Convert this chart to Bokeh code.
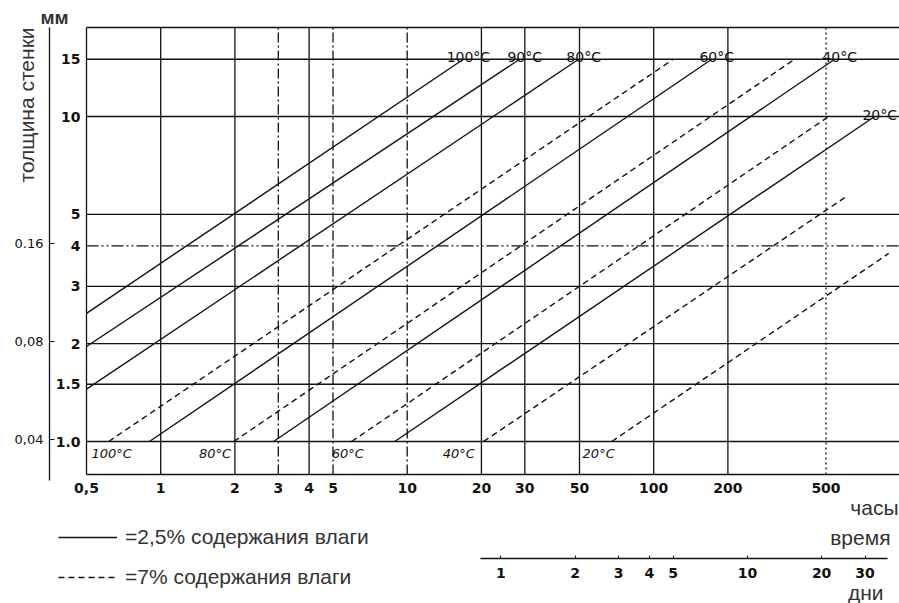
import math
from bokeh.plotting import figure
from bokeh.models import (Range1d, LogScale, LogAxis, FixedTicker, Label,
                          Legend, LegendItem, ColumnDataSource)
from bokeh.core.properties import value
from bokeh.embed import file_html
from bokeh.resources import INLINE

# ---------------- data ----------------
hours_ticks = [0.5, 1, 2, 3, 4, 5, 10, 20, 30, 50, 100, 200, 500]
hours_tick_labels = ["0,5", "1", "2", "3", "4", "5", "10", "20", "30", "50", "100", "200", "500"]
days_ticks = [1, 2, 3, 4, 5, 10, 20, 30]
days_tick_labels = ["1", "2", "3", "4", "5", "10", "20", "30"]
mm_ticks = [1.0, 1.5, 2, 3, 4, 5, 10, 15]
mm_tick_labels = ["1.0", "1.5", "2", "3", "4", "5", "10", "15"]
inch_ticks = [0.04, 0.08, 0.16]
inch_tick_labels = ["0,04", "0,08", "0.16"]

# 2.5 % moisture (solid lines): start / end points (hours, mm)
solid_temps = ["100°C", "90°C", "80°C", "60°C", "40°C", "20°C"]
solid_t_start = [0.5, 0.5, 0.5, 0.90, 2.87, 8.9]
solid_d_start = [2.48, 1.96, 1.45, 1.0, 1.0, 1.0]
solid_t_end = [16.9, 28.6, 49.6, 172, 542, 788]
solid_d_end = [15, 15, 15, 15, 15, 10]

# 7 % moisture (dashed lines)
dashed_temps = ["100°C", "80°C", "60°C", "40°C", "20°C"]
dashed_t_start = [0.615, 1.98, 5.95, 20.4, 67.6]
dashed_d_start = [1.0, 1.0, 1.0, 1.0, 1.0]
dashed_t_end = [120, 373, 513, 596, 898]
dashed_d_end = [15, 15, 10, 5.63, 3.79]
dashed_label_hours = [0.633, 1.66, 5.74, 16.2, 59.8]

# grid line groups (style groups)
xgrid_solid = [1, 2, 4, 20, 30, 50, 100, 200]
xgrid_dashdot = [3, 5, 10]
xgrid_dotted = [500]
ygrid_solid = [1.0, 1.5, 2, 3, 5, 10, 15]
ygrid_dashdot = [4]

# ---------------- layout constants ----------------
W, H = 899, 603
PX_PER_DEC_X = 246.5
PX_PER_DEC_Y = 325.0
BOX_LEFT_PX, BOX_TOP_PX, BOX_BOTTOM_PX = 86, 27, 474
X0 = 0.5                                  # hours at plot-box left edge
Y_ONE_PX = 441                            # pixel row of 1 mm

def hx(px):   # hours at a pixel column
    return X0 * 10 ** ((px - BOX_LEFT_PX) / PX_PER_DEC_X)

def my(py):   # mm at a pixel row
    return 10 ** ((Y_ONE_PX - py) / PX_PER_DEC_Y)

XR = (hx(0), hx(W))
YR = (my(H), my(0))
X1 = XR[1]
Y0, Y1 = my(BOX_BOTTOM_PX), my(BOX_TOP_PX)
MM_PER_INCH = 25.4
HOURS_PER_DAY = 24

p = figure(width=W, height=H, x_axis_type="log", y_axis_type="log",
           x_range=Range1d(*XR), y_range=Range1d(*YR),
           output_backend="svg", toolbar_location=None,
           min_border_left=0, min_border_right=0, min_border_top=0, min_border_bottom=0)
p.outline_line_color = None
p.background_fill_color = "white"
p.border_fill_color = "white"
p.grid.visible = False

INK = "#111111"
TXT = "#333333"
TICK_FONT = "DejaVu Sans"
TEXT_FONT = "Liberation Sans"
LW = 1.3

def style_axis(ax, size="14px", bold=True):
    ax.major_tick_out = 0
    ax.major_tick_in = 0
    ax.minor_tick_out = 0
    ax.minor_tick_in = 0
    ax.axis_line_color = INK
    ax.axis_line_width = LW
    ax.major_tick_line_color = INK
    ax.major_label_text_font = TICK_FONT
    ax.major_label_text_font_style = "bold" if bold else "normal"
    ax.major_label_text_font_size = size
    ax.major_label_text_color = INK

# hours axis (bottom of plot box)
xa = p.xaxis[0]
style_axis(xa)
xa.ticker = FixedTicker(ticks=hours_ticks)
xa.major_label_overrides = dict(zip(hours_ticks, hours_tick_labels))
xa.major_label_standoff = 8
xa.fixed_location = Y0
xa.bounds = (X0, X1)

# mm axis (left of plot box)
ya = p.yaxis[0]
style_axis(ya)
ya.ticker = FixedTicker(ticks=mm_ticks)
ya.major_label_overrides = dict(zip(mm_ticks, mm_tick_labels))
ya.major_label_standoff = 6
ya.fixed_location = X0
ya.bounds = (Y0, Y1)

# top border
ta = LogAxis(ticker=FixedTicker(ticks=[]), fixed_location=Y1, bounds=(X0, X1))
style_axis(ta)
p.add_layout(ta, "above")

# days axis
p.extra_x_ranges = {"days": Range1d(XR[0] / HOURS_PER_DAY, XR[1] / HOURS_PER_DAY)}
p.extra_x_scales = {"days": LogScale()}
da = LogAxis(x_range_name="days", ticker=FixedTicker(ticks=days_ticks),
             major_label_overrides=dict(zip(days_ticks, days_tick_labels)),
             fixed_location=my(558), bounds=(0.83, 37))
style_axis(da)
da.major_tick_in = 3
da.major_label_standoff = 9
p.add_layout(da, "below")

# inch axis
p.extra_y_ranges = {"inch": Range1d(YR[0] / MM_PER_INCH, YR[1] / MM_PER_INCH)}
p.extra_y_scales = {"inch": LogScale()}
ia = LogAxis(y_range_name="inch", ticker=FixedTicker(ticks=inch_ticks),
             major_label_overrides=dict(zip(inch_ticks, inch_tick_labels)),
             fixed_location=hx(49), bounds=(my(480) / MM_PER_INCH, Y1 / MM_PER_INCH))
style_axis(ia, size="13px", bold=False)
ia.major_tick_in = 5
ia.major_label_standoff = 6
p.add_layout(ia, "left")

# ---------------- grid lines ----------------
def vgrid(ticks, dash):
    p.segment(x0=ticks, y0=Y0, x1=ticks, y1=Y1, line_color=INK, line_width=LW, line_dash=dash)

def hgrid(ticks, dash):
    p.segment(x0=X0, y0=ticks, x1=X1, y1=ticks, line_color=INK, line_width=LW, line_dash=dash)

vgrid(xgrid_solid, "solid")
vgrid(xgrid_dashdot, "10 3 2 3")
vgrid(xgrid_dotted, "2 3")
hgrid(ygrid_solid, "solid")
hgrid(ygrid_dashdot, "12 3 2 3 2 3")

# ---------------- curves ----------------
solid_src = ColumnDataSource(dict(
    xs=[[a, b] for a, b in zip(solid_t_start, solid_t_end)],
    ys=[[a, b] for a, b in zip(solid_d_start, solid_d_end)],
    t_end=solid_t_end, d_end=solid_d_end, temp=solid_temps))
dashed_src = ColumnDataSource(dict(
    xs=[[a, b] for a, b in zip(dashed_t_start, dashed_t_end)],
    ys=[[a, b] for a, b in zip(dashed_d_start, dashed_d_end)],
    t_label=dashed_label_hours, d_start=dashed_d_start, temp=dashed_temps))

r_solid = p.multi_line(xs="xs", ys="ys", source=solid_src, line_color=INK, line_width=1.4)
r_dash = p.multi_line(xs="xs", ys="ys", source=dashed_src, line_color=INK,
                      line_width=1.4, line_dash="6 4")

p.text(x="t_end", y="d_end", text="temp", source=solid_src, text_align="center",
       text_baseline="alphabetic", x_offset=5, y_offset=-2, text_font=value(TICK_FONT),
       text_font_size="14px", text_color=INK)
p.text(x="t_label", y="d_start", text="temp", source=dashed_src, text_align="center",
       text_baseline="middle", y_offset=12, text_font=value(TICK_FONT),
       text_font_style="italic", text_font_size="13px", text_color=INK)

# ---------------- legend ----------------
legend = Legend(items=[LegendItem(label="=2,5% содержания влаги", renderers=[r_solid]),
                       LegendItem(label="=7% содержания влаги", renderers=[r_dash])],
                location=(58, 14), orientation="vertical",
                glyph_width=59, glyph_height=24, label_standoff=8, spacing=16,
                padding=0, margin=0, border_line_color=None, background_fill_alpha=0,
                label_text_font=TEXT_FONT, label_text_font_size="21px",
                label_text_color=TXT)
p.add_layout(legend)

# ---------------- free texts ----------------
def txt(s, x, y, align="left", size="21px", style="normal", angle=0.0):
    p.add_layout(Label(x=x, y=y, x_units="canvas", y_units="canvas", text=s,
                       text_align=align, text_baseline="alphabetic", angle=angle,
                       text_font=TEXT_FONT, text_font_size=size, text_font_style=style,
                       text_color=TXT))

txt("мм", 40, 17, size="19px", style="bold")
txt("толщина стенки", 26, 182, angle=math.pi / 2)
txt("часы", 898, 507, align="right")
txt("время", 890, 537, align="right")
txt("дни", 883, 592, align="right")

open("out.html", "w").write(file_html(p, INLINE))
